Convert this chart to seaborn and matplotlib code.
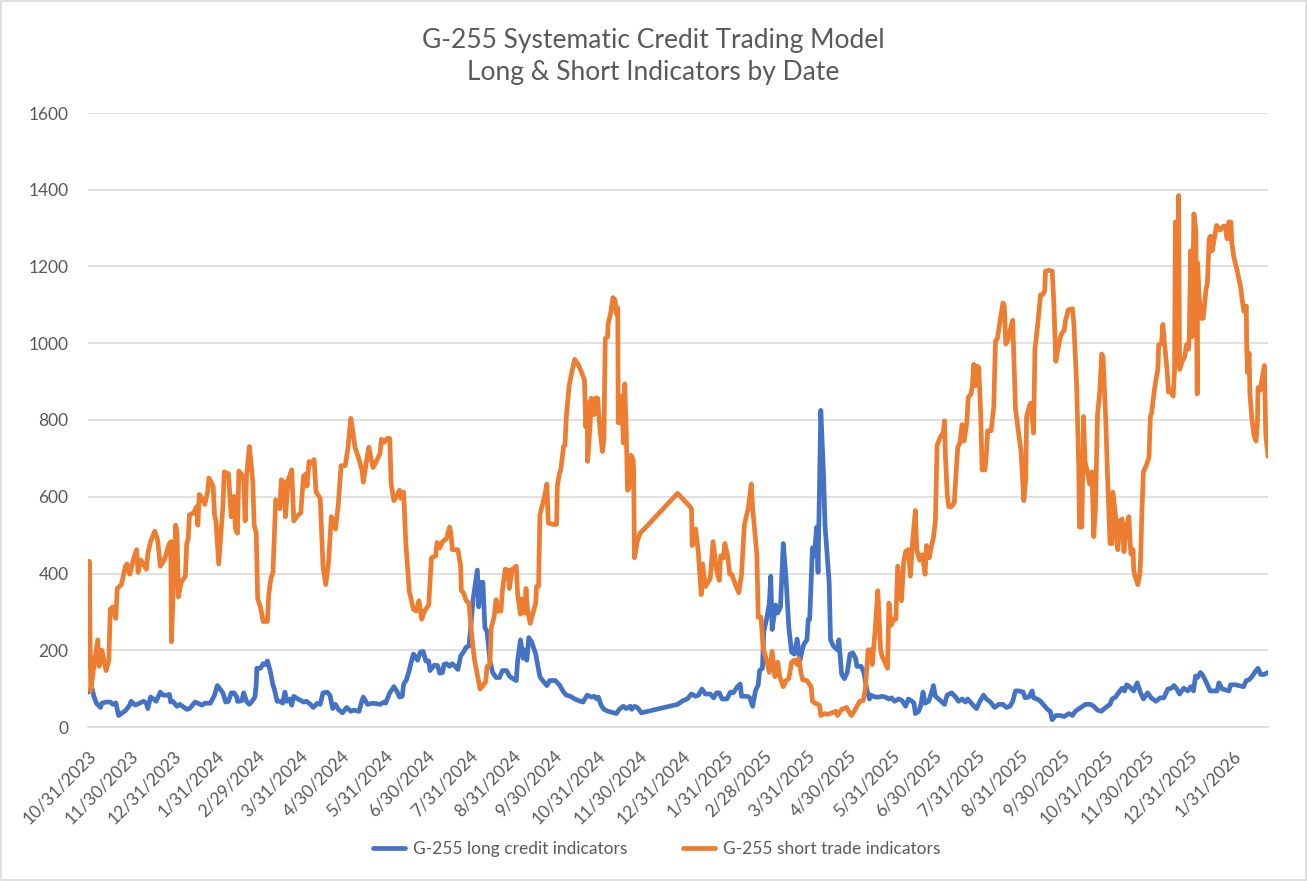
"""
plot.py
G-255 systematic credit trading model - long & short indicator counts by date
"""

import numpy as np
import pandas as pd
import seaborn as sns
import matplotlib.pyplot as plt
from matplotlib.patches import Rectangle

# first date on the axis, all series dates are given as day offsets from it
START = "2023-10-31"

long_days = [0, 3, 4, 6, 9, 10, 13, 16, 18, 20, 22, 24, 27, 30, 31, 34, 37, 40, 42, 43, 45, 47, 49, 52, 54, 57, 58.6, 59.5,
             61, 64, 66, 68, 71, 73, 77, 79, 82, 84, 88, 90, 91, 93, 95, 97, 99, 101, 103, 105, 107, 107.5, 109, 110.6, 112,
             114, 116, 118, 120, 121, 121.4, 124, 126, 128, 129, 131, 133, 134, 136, 138, 140, 141.6, 143, 145, 146.5, 148,
             151, 155, 157, 160, 162, 165, 167, 169, 172, 174, 176, 178, 180, 183, 186, 189, 191, 195, 197, 198, 201, 205,
             210, 213, 214, 217, 220, 222, 224, 226, 227, 229, 231, 232, 234, 235.5, 237, 239, 241, 243, 245, 246, 249,
             251.4, 253, 255, 256, 258, 260, 262, 264, 266, 268, 270, 272, 274, 275, 277, 280, 281, 282, 284, 285.4, 287,
             289, 291, 293.5, 296, 298, 301, 303, 305.5, 308, 309, 311, 313, 314, 315.6, 317, 319, 322, 323, 325, 327, 330,
             332, 336, 339, 342, 344, 347, 350, 354, 356, 359, 362, 364, 366, 367, 369, 371, 374, 378, 380, 382, 385, 387,
             390, 391, 393, 395, 398, 424, 428, 431, 434, 437, 439, 441.5, 444, 447.5, 450, 452, 454, 456, 459.5, 462, 464,
             467, 469, 470, 474, 476, 478, 480, 482, 483, 485, 486, 488, 490, 491, 492, 494.5, 496, 498, 500, 502, 504, 506,
             508, 510, 512, 514, 515, 517, 518, 519, 521, 522.4, 524, 525, 527, 529, 530, 533, 534, 536, 539, 540, 542, 544,
             546, 548, 550, 552, 553, 556, 558, 560, 562, 563, 566, 569, 571, 573.4, 576, 578, 580, 583, 585.4, 588, 590,
             592.6, 594, 595, 597.4, 599, 600.5, 602, 604.6, 607, 608, 609.4, 613, 616, 617.8, 621, 624, 626, 628.6, 631,
             632.7, 634.6, 636.5, 639, 641.4, 644, 646, 649, 652, 655, 658, 660.5, 663, 665, 667, 669.4, 672.5, 674, 676.6,
             679, 680, 682.6, 685, 687.4, 690, 692, 693.4, 696, 699.4, 702, 705.4, 708, 710, 714, 717.3, 721, 723.3, 726,
             728.6, 732, 735, 736.5, 739, 742, 743.7, 745.4, 747, 749, 752, 754.5, 757, 759, 762, 764.6, 768, 771, 773.7,
             776.6, 779, 781, 783, 785, 788, 791, 793, 795, 796.5, 798, 800, 802, 804.4, 807, 810, 812, 813.3, 815.7, 818,
             820.5, 821.7, 825.3, 831, 833, 835, 837, 840, 841.4, 843.3, 845.7, 848.6]
long_vals = [91, 99, 83, 62, 51, 62, 65, 65, 59, 63, 30, 35, 43, 57, 67, 57, 62, 67, 62, 48, 78, 73, 67, 91, 83, 83, 85, 65,
             67, 54, 59, 54, 46, 48, 65, 62, 57, 62, 62, 76, 83, 108, 99, 89, 65, 67, 89, 89, 78, 67, 67, 69, 89,
             67, 59, 67, 78, 110, 153, 153, 165, 163, 172, 147, 110, 99, 67, 67, 62, 91, 67, 73, 57, 80,
             73, 65, 67, 59, 51, 62, 59, 89, 91, 83, 48, 59, 46, 37, 51, 41, 44, 41, 69, 78, 59, 62,
             59, 65, 62, 89, 105, 94, 78, 80, 112, 123, 147, 163, 190, 183, 174, 195, 197, 172, 172, 147, 161,
             160, 140, 142, 163, 165, 158, 165, 158, 150, 185, 195, 208, 211, 249, 334, 409, 313, 377, 377, 259, 249,
             174, 142, 129, 129, 147, 147, 133, 126, 121, 174, 227, 179, 201, 174, 233, 222, 190, 169, 131, 121, 108,
             121, 121, 110, 91, 83, 80, 73, 67, 65, 83, 78, 80, 73, 78, 57, 46, 41, 37, 35, 46, 54, 48,
             54, 46, 54, 51, 37, 59, 69, 73, 86, 80, 83, 99, 86, 86, 76, 89, 89, 73, 73, 91, 89,
             105, 112, 80, 80, 76, 54, 94, 110, 147, 153, 249, 281, 323, 393, 254, 318, 297, 313, 478, 387, 259, 195,
             190, 229, 174, 206, 217, 227, 281, 281, 467, 446, 521, 403, 825, 654, 526, 377, 227, 211, 201, 227, 137, 126,
             142, 190, 193, 179, 158, 158, 142, 99, 73, 83, 78, 78, 80, 78, 73, 76, 67, 73, 69, 54, 73,
             67, 62, 35, 41, 57, 91, 62, 67, 94, 108, 80, 69, 59, 83, 89, 78, 67, 73, 65,
             73, 65, 57, 48, 67, 83, 73, 65, 51, 59, 59, 51, 54, 67, 94, 94, 91, 76, 78,
             94, 76, 73, 67, 57, 46, 41, 19, 30, 30, 27, 35, 30, 41, 51, 59, 59, 54, 44,
             41, 51, 59, 73, 78, 94, 101, 94, 110, 105, 94, 115, 89, 73, 89, 76, 67, 76, 76,
             99, 101, 108, 99, 86, 101, 94, 105, 94, 133, 129, 142, 133, 115, 94, 94, 94, 115, 99, 97,
             94, 110, 110, 105, 121, 123, 131, 147, 153, 137, 137, 142]

short_days = [0, 0.8, 2, 4, 7, 8, 10, 11.5, 13, 15, 16, 18, 20, 21, 24, 27, 28, 30, 33, 35, 36, 38, 42, 43, 45, 48, 50, 52,
              54, 56, 57, 58.5, 59.5, 60, 63, 64, 65, 67, 70, 71, 72, 73, 76, 78, 79, 80, 82, 84, 86, 87, 90, 91, 92, 94,
              95.5, 97, 98, 101, 103, 105, 106, 107.5, 108.5, 110, 112, 113, 114, 116, 117, 118.5, 119.5, 121, 122, 124,
              126, 129, 130, 131.5, 133, 135, 138, 139, 141, 142, 144, 146.5, 148, 150, 153, 155, 157, 157.5, 159, 161,
              162.6, 164, 167, 169, 171, 173, 175, 178, 180, 182, 185, 187, 189, 190, 192, 194.5, 197, 198, 200, 202,
              203.4, 205, 208, 210, 211, 213, 215, 217, 218, 220, 222, 224, 225, 227, 228.5, 231, 234, 236, 238, 240, 242,
              245, 247, 250, 251, 253, 255, 258, 260, 261, 262, 266, 268, 268.5, 270, 272, 274, 276, 278, 280, 282, 284,
              286, 287, 289, 290, 292, 293.5, 294.5, 297, 298, 300, 302, 303, 305, 306.5, 308, 309, 311, 312, 314, 315,
              316, 318, 320, 322, 322.5, 324, 325, 328, 330, 331, 334, 337, 337.5, 339, 340, 342, 343, 344, 346, 348, 350,
              352, 353.5, 355, 357, 358, 359, 359.3, 361, 362, 364, 365, 366.5, 368, 370, 371, 372, 373.7, 374, 376,
              377.5, 379, 380, 381, 381.3, 382, 384, 385, 386, 387, 388, 389, 390.5, 392, 392.4, 393, 395, 397, 400, 424,
              433, 434, 434.5, 437, 439, 441, 442, 444, 447.5, 449.5, 452, 454, 455, 457, 458, 460, 461.5, 463, 465, 468,
              470, 472, 475, 477, 478, 481, 482, 484, 485.5, 488, 490, 492, 494, 496, 497.5, 500, 502, 504, 506, 508, 510,
              511, 513, 514, 517, 520, 521, 523, 526, 527, 530, 532, 535, 538, 539, 542, 545.5, 547, 549, 551, 553, 555,
              557.5, 559, 561, 563, 564, 566, 568, 570, 571, 573, 575, 576, 577.5, 579.4, 581, 582.3, 585, 586.6, 588,
              590, 591.4, 593, 595, 596, 598, 600, 602, 603, 605, 606, 608, 609.4, 610.6, 613, 615, 616, 616.6, 618, 619,
              621, 623, 624.5, 625.5, 627, 628.6, 630, 632, 633, 635, 636, 637, 638, 639.4, 640.6, 642, 643, 645, 646,
              647, 649.5, 651.4, 652.6, 654, 656, 658, 659, 660, 661.5, 663.4, 665, 667, 669, 671, 673, 674.4, 675, 677,
              678, 680, 681, 683, 685, 686.4, 688, 688.6, 691, 693.4, 694.6, 696, 697, 699, 700.6, 702, 703, 705, 708,
              709, 711, 712.5, 713, 714.7, 716, 717, 719, 720.4, 722, 723.3, 724.5, 726, 727.6, 729, 730, 732, 733, 735,
              736.5, 737, 739, 740.6, 742, 743.7, 745, 746, 747, 748.5, 750, 751.6, 752, 753, 755, 756.4, 757, 758, 759,
              761, 763, 764, 765, 766.5, 768, 769.4, 770, 772, 773, 774, 776, 777, 778.5, 780.4, 781.4, 782, 783, 784,
              784.3, 785, 787, 788.6, 790, 791.5, 792, 793, 794, 795.3, 796.7, 797.7, 798, 799, 800.6, 802, 804, 805,
              806.3, 807.3, 808.5, 810, 811.6, 814, 816.5, 818, 819, 820, 820.3, 822, 822.5, 824, 826.5, 829, 830, 831.3,
              833, 833.3, 834, 835, 835.6, 837, 838.5, 840, 841, 841.4, 843, 844.5, 846, 847, 848.6]
short_vals = [160, 432, 94, 153, 227, 158, 200, 174, 147, 174, 307, 313, 283, 361, 371, 419, 425, 398, 441, 462, 403, 435,
              411, 451, 483, 510, 489, 419, 430, 446, 462, 478, 483, 222, 526, 510, 339, 377, 393, 478, 489, 553, 558, 574,
              526, 606, 596, 580, 612, 649, 628, 553, 537, 425, 500, 574, 665, 660, 548, 601, 516, 505, 667, 660, 644,
              537, 654, 731, 697, 638, 526, 505, 334, 313, 275, 275, 345, 387, 403, 592, 569, 644, 638, 548, 644, 670,
              537, 548, 558, 654, 660, 628, 692, 686, 697, 612, 596, 419, 371, 430, 548, 516, 580, 681, 681, 729, 804,
              783, 729, 702, 670, 638, 686, 729, 702, 676, 697, 713, 750, 742, 752, 752, 633, 590, 601, 617, 596, 612,
              483, 355, 307, 302, 329, 281, 302, 318, 441, 446, 481, 467, 483, 492, 521, 505, 462, 462, 419, 355, 350,
              329, 323, 238, 174, 137, 99, 108, 118, 158, 163, 259, 286, 332, 302, 302, 355, 411, 409, 361, 411, 414,
              419, 345, 294, 334, 297, 361, 307, 270, 297, 323, 366, 366, 553, 596, 633, 532, 528, 528, 628, 660, 670,
              731, 734, 809, 889, 926, 958, 948, 937, 923, 905, 782, 846, 692, 782, 857, 814, 857, 857, 782, 718, 750,
              1012, 1017, 1049, 1081, 1119, 1113, 1076, 1092, 793, 793, 862, 740, 894, 782, 617, 622, 708, 697, 665,
              441, 483, 505, 516, 609, 574, 569, 473, 516, 451, 345, 425, 366, 387, 483, 409, 382, 446, 441, 478, 446,
              398, 398, 377, 350, 398, 526, 574, 633, 569, 451, 286, 286, 206, 174, 142, 197, 131, 169, 131, 105, 121,
              126, 169, 174, 163, 179, 137, 123, 121, 105, 67, 62, 57, 30, 35, 33, 37, 41, 30, 46, 51, 41, 30, 41, 54,
              67, 69, 99, 201, 201, 163, 249, 355, 201, 185, 169, 153, 323, 265, 281, 281, 419, 329, 430, 457, 462, 393,
              483, 564, 462, 435, 449, 398, 473, 441, 462, 494, 537, 734, 756, 766, 798, 708, 601, 574, 574, 585, 676,
              729, 740, 788, 745, 793, 859, 868, 889, 945, 889, 940, 937, 814, 670, 670, 708, 772, 772, 836, 1006, 1012,
              1060, 1105, 1097, 998, 1006, 1038, 1060, 830, 772, 718, 590, 644, 809, 836, 844, 766, 985, 1049, 1126,
              1126, 1137, 1188, 1190, 1188, 1103, 953, 974, 1012, 1028, 1033, 1060, 1087, 1090, 1049, 889, 676, 521,
              521, 809, 692, 660, 633, 665, 496, 569, 814, 873, 972, 964, 793, 676, 478, 478, 612, 548, 462, 537, 542,
              457, 494, 526, 548, 451, 462, 409, 393, 371, 398, 441, 569, 665, 681, 702, 809, 820, 868, 905, 932, 996,
              998, 1049, 1006, 932, 873, 878, 862, 932, 1316, 1316, 942, 1385, 932, 953, 964, 996, 985, 1022, 1241,
              1017, 1337, 1295, 868, 1209, 1124, 1065, 1065, 1140, 1156, 1273, 1279, 1241, 1273, 1307, 1295, 1305,
              1305, 1273, 1273, 1316, 1316, 1263, 1225, 1188, 1145, 1113, 1083, 1097, 980, 923, 974, 868, 804, 761,
              745, 793, 884, 878, 910, 942, 761, 705]

series_names = ["G-255 long credit indicators", "G-255 short trade indicators"]
line_colors = ["#4472C4", "#ED7D31"]

tick_labels = ["10/31/2023", "11/30/2023", "12/31/2023", "1/31/2024", "2/29/2024", "3/31/2024", "4/30/2024",
               "5/31/2024", "6/30/2024", "7/31/2024", "8/31/2024", "9/30/2024", "10/31/2024", "11/30/2024",
               "12/31/2024", "1/31/2025", "2/28/2025", "3/31/2025", "4/30/2025", "5/31/2025", "6/30/2025",
               "7/31/2025", "8/31/2025", "9/30/2025", "10/31/2025", "11/30/2025", "12/31/2025", "1/31/2026"]

title_lines = ["G-255 Systematic Credit Trading Model", "Long & Short Indicators by Date"]

# build one tall dataframe for seaborn
start = pd.Timestamp(START)
frames = []
for name, days, vals in [(series_names[0], long_days, long_vals), (series_names[1], short_days, short_vals)]:
    frames.append(pd.DataFrame({
        "Date": start + pd.to_timedelta(np.array(days), unit="D"),
        "Count": vals,
        "Series": name,
    }))
df = pd.concat(frames, ignore_index=True)

sns.set_style("white")
plt.rcParams["font.family"] = ["Lato", "DejaVu Sans"]
text_grey = "#595959"
grid_grey = "#D9D9D9"

fig = plt.figure(figsize=(13.07, 8.81), dpi=100)
ax = fig.add_axes([88 / 1307, 1 - 727 / 881, (1268 - 88) / 1307, (727 - 113) / 881])

sns.lineplot(data=df, x="Date", y="Count", hue="Series", hue_order=series_names,
             palette=line_colors, estimator=None, sort=False, linewidth=3.4, ax=ax)
for ln in ax.get_lines():
    ln.set_solid_joinstyle("round")
    ln.set_solid_capstyle("round")

# axes limits / grid like the excel chart
ax.set_ylim(0, 1600)
ax.set_yticks(range(0, 1601, 200))
ax.set_xlim(start, df["Date"].max())
ax.yaxis.grid(True, color=grid_grey, linewidth=1.1)
ax.xaxis.grid(False)
ax.set_axisbelow(True)
for side in ["left", "right", "top"]:
    ax.spines[side].set_visible(False)
ax.spines["bottom"].set_color(grid_grey)
ax.spines["bottom"].set_linewidth(1.1)

ax.set_xticks(pd.to_datetime(tick_labels, format="%m/%d/%Y"))
ax.set_xticklabels(tick_labels, rotation=45, ha="right", va="top", rotation_mode="anchor")
ax.tick_params(axis="x", length=4, width=1.1, color=grid_grey, pad=11, labelsize=12.5, labelcolor=text_grey)
ax.tick_params(axis="y", length=0, pad=14, labelsize=12.5, labelcolor=text_grey)
ax.set_xlabel("")
ax.set_ylabel("")

# two title lines placed on their baselines
for i, line in enumerate(title_lines):
    fig.text(0.5, 1 - (48 + 32 * i) / 881, line, ha="center", va="baseline", fontsize=19, color=text_grey)

handles, labels = ax.get_legend_handles_labels()
ax.get_legend().remove()
fig.legend(handles, labels, loc="center", bbox_to_anchor=(657 / 1307, 1 - 849 / 881), ncol=2, frameon=False,
           fontsize=12.5, labelcolor=text_grey, handlelength=1.8, handletextpad=0.5, columnspacing=3.2)

# light chart-area border
fig.patches.append(Rectangle((0.0005, 0.0008), 0.999, 0.9985, transform=fig.transFigure, fill=False,
                             edgecolor=grid_grey, linewidth=1.2))

fig.savefig("out.png", dpi=100)
